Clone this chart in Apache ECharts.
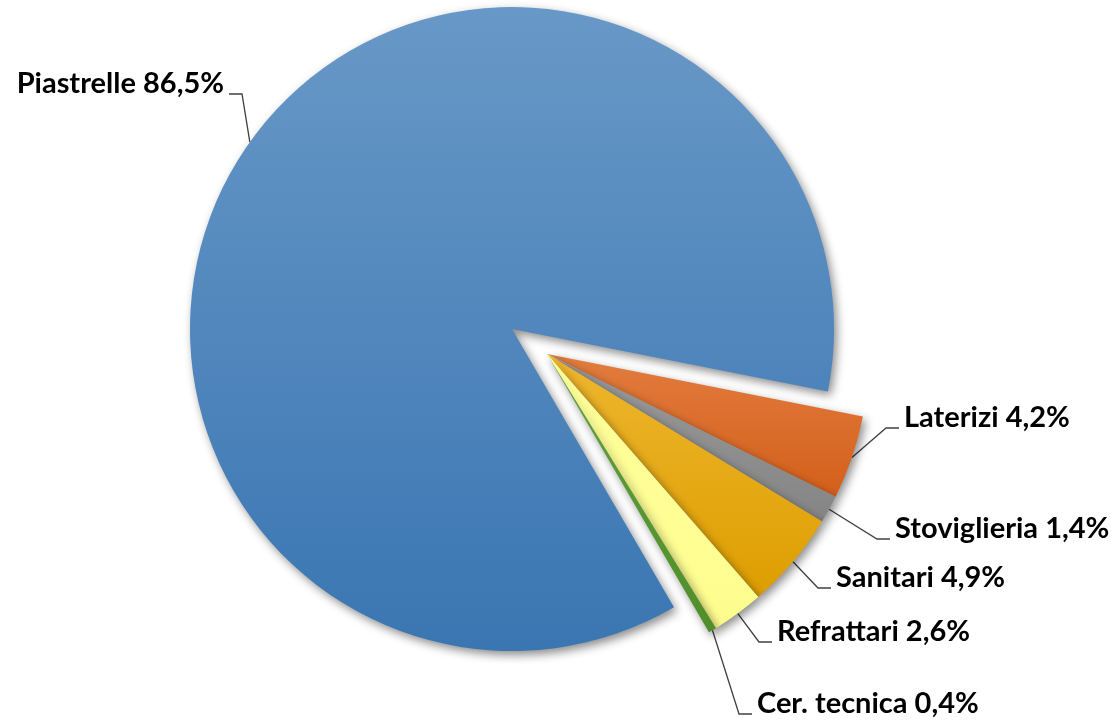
<!DOCTYPE html>
<html><head><meta charset="utf-8">
<script src="https://cdn.jsdelivr.net/npm/echarts@6/dist/echarts.min.js"></script>
<style>html,body{margin:0;padding:0;background:#fff}#c{width:1118px;height:721px}</style>
</head><body><div id="c"></div>
<script>
// ---- data ----
const categories = ['Piastrelle', 'Laterizi', 'Stoviglieria', 'Sanitari', 'Refrattari', 'Cer. tecnica'];
const shares = [86.5, 4.2, 1.4, 4.9, 2.6, 0.4];

// ---- styles / layout config ----
const sliceColors = [
  ['#6898c7', '#3a76b2'],
  ['#e27c3f', '#d45f1a'],
  ['#9a9a9a', '#858585'],
  ['#efb62e', '#dd9e00'],
  ['#ffff9c', '#fdfd8e'],
  ['#62a23a', '#4f8e2a']
];
// label anchor: [x, y(middle), align]
const labelAnchors = [
  [224, 84, 'right'],
  [904, 418, 'left'],
  [895, 529, 'left'],
  [836, 578, 'left'],
  [777, 632, 'left'],
  [757, 704, 'left']
];
const pieCenter = [547, 354];
const pieRadius = 322;
const startAngle = 300.2;
const explodeIndex = 0;
const explodeOffset = 43;

// offset centre of the exploded slice along its mid angle
const total = shares.reduce((a, b) => a + b, 0);
let before = 0;
for (let i = 0; i < explodeIndex; i++) before += shares[i];
const midDeg = startAngle - (before + shares[explodeIndex] / 2) / total * 360;
const midRad = midDeg * Math.PI / 180;
const explodedCenter = [
  pieCenter[0] + explodeOffset * Math.cos(midRad),
  pieCenter[1] - explodeOffset * Math.sin(midRad)
];

const chart = echarts.init(document.getElementById('c'));

function makeData(visibleFn) {
  return categories.map((name, i) => {
    const vis = visibleFn(i);
    return {
      name: name,
      value: shares[i],
      itemStyle: vis ? {
        color: new echarts.graphic.LinearGradient(0, 0, 0, 1, [
          { offset: 0, color: sliceColors[i][0] },
          { offset: 1, color: sliceColors[i][1] }
        ])
      } : { color: 'rgba(0,0,0,0)', shadowBlur: 0, shadowColor: 'rgba(0,0,0,0)' },
      label: { show: vis },
      labelLine: { show: vis }
    };
  });
}

function baseSeries(center, data) {
  return {
    type: 'pie',
    center: center,
    radius: pieRadius,
    startAngle: startAngle,
    clockwise: true,
    avoidLabelOverlap: false,
    silent: true,
    emphasis: { scale: false, disabled: true },
    itemStyle: {
      borderWidth: 0,
      shadowBlur: 10,
      shadowColor: 'rgba(0,0,0,0.45)',
      shadowOffsetX: 3,
      shadowOffsetY: 4
    },
    label: {
      position: 'outside',
      fontFamily: 'Lato',
      fontWeight: 'bold',
      fontSize: 29,
      color: '#000000',
      formatter: p => p.name + ' ' + p.value.toFixed(1).replace('.', ',') + '%'
    },
    labelLine: {
      length: 20,
      length2: 10,
      lineStyle: { color: '#404040', width: 1.3 }
    },
    labelLayout: function (params) {
      const a = labelAnchors[params.dataIndex];
      const dir = a[2] === 'right' ? 1 : -1;
      const endX = a[0] + dir * 5;
      const elbowX = endX + dir * 13;
      const ly = a[1] + 10;
      const p0 = params.labelLinePoints ? params.labelLinePoints[0] : [elbowX, ly];
      return {
        x: a[0], y: a[1], align: a[2], verticalAlign: 'middle',
        labelLinePoints: [p0, [elbowX, ly], [endX, ly]]
      };
    },
    data: data
  };
}

chart.setOption({
  animation: false,
  backgroundColor: '#ffffff',
  series: [
    baseSeries(explodedCenter, makeData(i => i === explodeIndex)),
    baseSeries(pieCenter, makeData(i => i !== explodeIndex))
  ]
});
</script></body></html>
